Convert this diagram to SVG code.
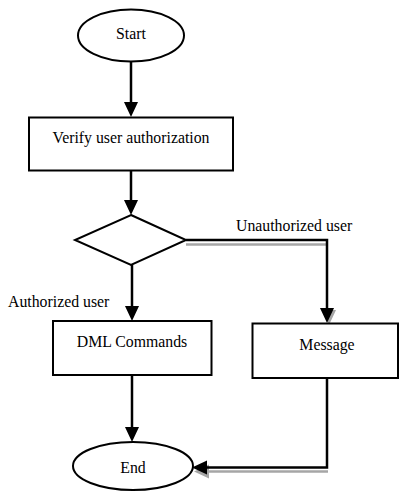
<svg xmlns="http://www.w3.org/2000/svg" width="399" height="492" viewBox="0 0 399 492">
  <style>
    .shape { fill: #ffffff; stroke: #000000; stroke-width: 2; }
    .label { font-family: "Liberation Serif", "Times New Roman", serif; font-size: 15.8px; fill: #000000; }
    .mid { text-anchor: middle; }
    .flow { fill: none; stroke: #000000; stroke-width: 2.5; }
    .shadow { fill: none; stroke: #a6a6a6; stroke-width: 2.5; }
  </style>
  <defs>
    <marker id="arrow" markerUnits="userSpaceOnUse" viewBox="0 -7 15 14" refX="0" refY="0" markerWidth="15" markerHeight="14" orient="auto" overflow="visible">
      <path d="M0,-7 L15,0 L0,7 Z" fill="#000000"/>
    </marker>
    <marker id="arrow-shadow" markerUnits="userSpaceOnUse" viewBox="0 -7 15 14" refX="0" refY="0" markerWidth="15" markerHeight="14" orient="auto" overflow="visible">
      <path d="M0,-7 L15,0 L0,7 Z" fill="#a6a6a6"/>
    </marker>
  </defs>

  <!-- drop shadows under the two side branches -->
  <g id="shadows">
    <path class="shadow" d="M186,244.5 H326"/>
    <path class="shadow" d="M329,309 V310" marker-end="url(#arrow-shadow)"/>
    <path class="shadow" d="M328,471.5 H209" marker-end="url(#arrow-shadow)"/>
  </g>

  <g id="connectors">
    <path class="flow" d="M131,62 V102" marker-end="url(#arrow)"/>
    <path class="flow" d="M131,170 V200" marker-end="url(#arrow)"/>
    <path class="flow" d="M132,265 V306" marker-end="url(#arrow)"/>
    <path class="flow" d="M186,240 H327 V308" marker-end="url(#arrow)"/>
    <path class="flow" d="M132,375 V427" marker-end="url(#arrow)"/>
    <path class="flow" d="M327,378 V467.5 H207" marker-end="url(#arrow)"/>
  </g>

  <g id="labels">
    <text class="label" x="236" y="231">Unauthorized user</text>
    <text class="label" x="8" y="306.5">Authorized user</text>
  </g>

  <g id="start">
    <ellipse class="shape" cx="131" cy="35.5" rx="53" ry="26"/>
    <text class="label mid" x="131" y="39">Start</text>
  </g>

  <g id="verify">
    <rect class="shape" x="29" y="117.5" width="204" height="53"/>
    <text class="label mid" x="131" y="142.5">Verify user authorization</text>
  </g>

  <g id="decision">
    <polygon class="shape" points="131,215 186,240 131,265 75,240"/>
  </g>

  <g id="dml">
    <rect class="shape" x="53" y="321" width="158.5" height="54"/>
    <text class="label mid" x="132" y="346.5">DML Commands</text>
  </g>

  <g id="message">
    <rect class="shape" x="252.5" y="323.5" width="145.5" height="54.5"/>
    <text class="label mid" x="327" y="350">Message</text>
  </g>

  <g id="end">
    <ellipse class="shape" cx="133" cy="466" rx="60" ry="24"/>
    <text class="label mid" x="133" y="473">End</text>
  </g>
</svg>
